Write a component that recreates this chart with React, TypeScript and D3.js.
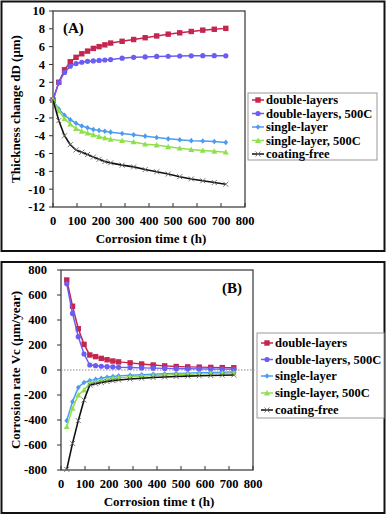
import React from 'react';
import * as d3 from 'd3';

// hours of exposure
const timesA = [0, 24, 48, 72, 96, 120, 144, 168, 192, 216, 240, 288, 336, 384, 432, 480, 528, 576, 624, 672, 720];
const timesB = [24, 48, 72, 96, 120, 144, 168, 192, 216, 240, 288, 336, 384, 432, 480, 528, 576, 624, 672, 720];

const seriesNames = ['double-layers', 'double-layers, 500C', 'single-layer', 'single-layer, 500C', 'coating-free'];

// (A) thickness change dD (um)
const doubleA = [0, 2.0, 3.4, 4.3, 4.8, 5.2, 5.5, 5.8, 6.0, 6.2, 6.4, 6.6, 6.8, 7.0, 7.2, 7.4, 7.55, 7.7, 7.85, 7.95, 8.05];
const double500A = [0, 1.95, 3.1, 3.8, 4.1, 4.25, 4.35, 4.4, 4.45, 4.5, 4.55, 4.7, 4.8, 4.85, 4.9, 4.92, 4.95, 4.97, 4.98, 4.98, 4.97];
const singleA = [0, -1.0, -1.7, -2.2, -2.6, -2.9, -3.1, -3.3, -3.4, -3.5, -3.6, -3.75, -3.9, -4.05, -4.2, -4.35, -4.45, -4.55, -4.6, -4.65, -4.75];
const single500A = [0, -1.2, -2.1, -2.7, -3.2, -3.5, -3.7, -3.9, -4.1, -4.25, -4.4, -4.55, -4.7, -4.95, -5.05, -5.25, -5.4, -5.55, -5.65, -5.75, -5.85];
const freeA = [0, -2.3, -4.0, -5.0, -5.6, -5.85, -6.1, -6.4, -6.65, -6.9, -7.05, -7.3, -7.5, -7.8, -8.05, -8.3, -8.6, -8.85, -9.05, -9.25, -9.45];

// (B) corrosion rate Vc (um/year)
const doubleB = [720, 510, 330, 205, 120, 107, 93, 82, 72, 65, 57, 48, 40, 33, 28, 25, 23, 21, 19, 18];
const double500B = [690, 453, 267, 128, 40, 35, 30, 27, 25, 22, 20, 17, 15, 13, 11, 10, 9, 8, 7, 6];
const singleB = [-405, -253, -140, -100, -85, -75, -66, -58, -52, -47, -42, -38, -34, -30, -27, -25, -22, -20, -18, -16];
const single500B = [-453, -307, -200, -160, -107, -95, -85, -76, -68, -62, -55, -50, -45, -40, -37, -34, -31, -29, -27, -25];
const freeB = [-795, -587, -405, -240, -120, -110, -100, -92, -85, -80, -72, -66, -60, -56, -52, -49, -46, -44, -42, -40];

const xTicks = [0, 100, 200, 300, 400, 500, 600, 700, 800];
const yTicksA = [10, 8, 6, 4, 2, 0, -2, -4, -6, -8, -10, -12];
const yTicksB = [800, 600, 400, 200, 0, -200, -400, -600, -800];

const colors = ['#C4264F', '#6B5CF2', '#4C9CF2', '#8FE04C', '#111111'];
const shapes = ['square', 'circle', 'diamond', 'triangle', 'cross'];

const FONT = '"Liberation Serif", "Times New Roman", serif';

function Marker({ shape, x, y, color }: { shape: string; x: number; y: number; color: string }) {
  if (shape === 'square') return <rect x={x - 2.7} y={y - 2.7} width={5.4} height={5.4} fill={color} />;
  if (shape === 'circle') return <circle cx={x} cy={y} r={2.6} fill={color} />;
  if (shape === 'diamond')
    return <path d={`M${x},${y - 2.8}L${x + 2.4},${y}L${x},${y + 2.8}L${x - 2.4},${y}Z`} fill={color} />;
  if (shape === 'triangle')
    return <path d={`M${x},${y - 3}L${x + 3},${y + 2.4}L${x - 3},${y + 2.4}Z`} fill={color} />;
  return (
    <path d={`M${x - 2.5},${y - 2.5}L${x + 2.5},${y + 2.5}M${x - 2.5},${y + 2.5}L${x + 2.5},${y - 2.5}`} stroke="#666" strokeWidth={0.9} />
  );
}

interface PanelProps {
  top: number;
  frame: [number, number];
  plot: { left: number; right: number; top: number; bottom: number };
  yDomain: [number, number];
  yTicks: number[];
  times: number[];
  series: number[][];
  tag: string;
  tagPos: [number, number];
  yTitle: string;
  yTitleX: number;
  yLabelGap: number;
  legend: { x: number; y: number; w: number; h: number; rowY: number[] };
  zeroLine?: boolean;
}

function Panel(p: PanelProps) {
  const x = d3.scaleLinear().domain([0, 800]).range([p.plot.left, p.plot.right]);
  const y = d3.scaleLinear().domain(p.yDomain).range([p.plot.bottom, p.plot.top]);
  const line = d3.line<[number, number]>().x(d => x(d[0])).y(d => y(d[1]));
  const midX = (p.plot.left + p.plot.right) / 2;
  const midY = (p.plot.top + p.plot.bottom) / 2;

  return (
    <g>
      <rect x={1.5} y={p.frame[0]} width={383} height={p.frame[1] - p.frame[0]} fill="white" stroke="#111" strokeWidth={2} />
      <rect x={p.plot.left} y={p.plot.top} width={p.plot.right - p.plot.left} height={p.plot.bottom - p.plot.top}
        fill="none" stroke="#333" strokeWidth={1.2} />
      {p.zeroLine && (
        <line x1={p.plot.left} x2={p.plot.right + 2} y1={y(0)} y2={y(0)} stroke="#888" strokeWidth={1} strokeDasharray="1.5,1.5" />
      )}
      {p.yTicks.map(t => (
        <g key={t}>
          <line x1={p.plot.left - 4} x2={p.plot.left} y1={y(t)} y2={y(t)} stroke="#333" />
          <text x={p.plot.left - p.yLabelGap} y={y(t)} dy="0.35em" textAnchor="end" fontSize={12.5} fontWeight="bold" fontFamily={FONT}>
            {t}
          </text>
        </g>
      ))}
      {xTicks.map(t => (
        <g key={t}>
          <line x1={x(t)} x2={x(t)} y1={p.plot.bottom} y2={p.plot.bottom - 4} stroke="#333" />
          <text x={x(t)} y={p.plot.bottom + 18} textAnchor="middle" fontSize={12.5} fontWeight="bold" fontFamily={FONT}>
            {t}
          </text>
        </g>
      ))}
      <text x={midX + 2} y={p.plot.bottom + 36} textAnchor="middle" fontSize={13} fontWeight="bold" fontFamily={FONT}>
        Corrosion time t (h)
      </text>
      <text transform={`translate(${p.yTitleX},${midY}) rotate(-90)`} textAnchor="middle" fontSize={13} fontWeight="bold" fontFamily={FONT}>
        {p.yTitle}
      </text>
      <text x={p.tagPos[0]} y={p.tagPos[1]} fontSize={15} fontWeight="bold" fontFamily={FONT}>{p.tag}</text>
      {p.series.map((vals, i) => {
        const pts = p.times.map((t, j) => [t, vals[j]] as [number, number]);
        return (
          <g key={i}>
            <path d={line(pts) || ''} fill="none" stroke={colors[i]} strokeWidth={i === 4 ? 1.6 : 1.5} />
            {pts.map((d, j) => (
              <Marker key={j} shape={shapes[i]} x={x(d[0])} y={y(d[1])} color={colors[i]} />
            ))}
          </g>
        );
      })}
      <rect x={p.legend.x} y={p.legend.y} width={p.legend.w} height={p.legend.h} fill="white" stroke="#999" strokeWidth={1} />
      {seriesNames.map((name, i) => {
        const ry = p.legend.rowY[i];
        const lx = p.legend.x + 4;
        return (
          <g key={name}>
            <line x1={lx} x2={lx + 12} y1={ry} y2={ry} stroke={colors[i]} strokeWidth={1.5} />
            <Marker shape={shapes[i]} x={lx + 6} y={ry} color={colors[i]} />
            <text x={lx + 14} y={ry} dy="0.35em" fontSize={12.5} fontWeight="bold" fontFamily={FONT}>{name}</text>
          </g>
        );
      })}
    </g>
  );
}

export default function App() {
  return (
    <svg width={387} height={515} style={{ position: 'absolute', left: 0, top: 0, background: 'white' }}>
      <Panel
        top={0}
        frame={[1.5, 251]}
        plot={{ left: 53, right: 245, top: 11, bottom: 207 }}
        yDomain={[-12, 10]}
        yTicks={yTicksA}
        times={timesA}
        series={[doubleA, double500A, singleA, single500A, freeA]}
        tag="(A)"
        tagPos={[63, 33]}
        yTitle="Thickness change dD (μm)"
        yTitleX={20}
        yLabelGap={8}
        legend={{ x: 248, y: 93, w: 129, h: 67, rowY: [100, 113.5, 127, 140.5, 154] }}
      />
      <Panel
        top={262}
        frame={[262, 513]}
        plot={{ left: 61, right: 253, top: 270, bottom: 470 }}
        yDomain={[-800, 800]}
        yTicks={yTicksB}
        times={timesB}
        series={[doubleB, double500B, singleB, single500B, freeB]}
        tag="(B)"
        tagPos={[222, 293]}
        yTitle="Corrosion rate Vc (μm/year)"
        yTitleX={20}
        yLabelGap={14}
        legend={{ x: 257, y: 333, w: 127, h: 85, rowY: [343, 359.5, 376, 393, 410] }}
        zeroLine
      />
    </svg>
  );
}
